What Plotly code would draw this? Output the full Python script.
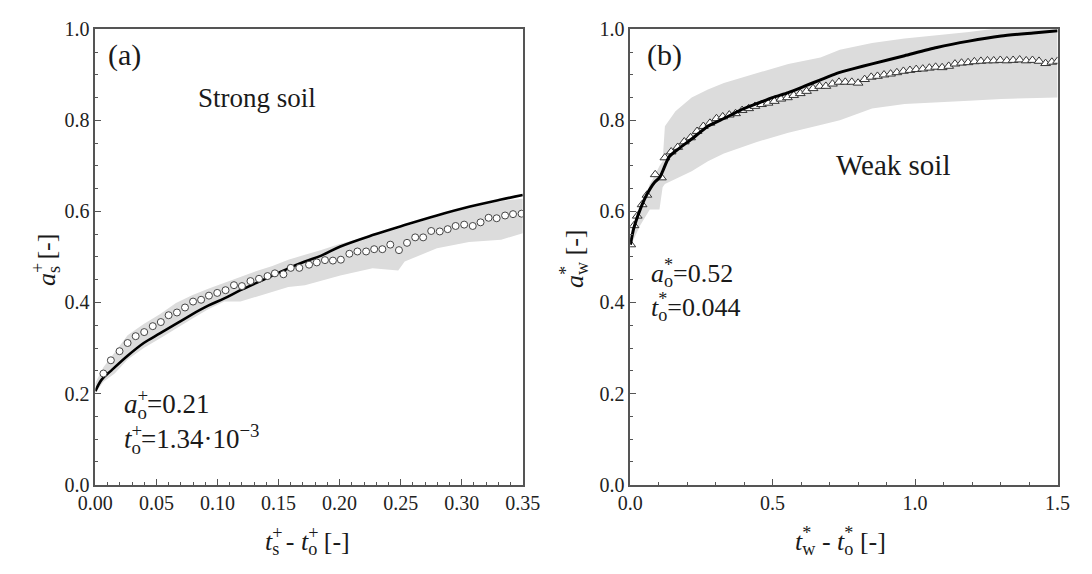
import plotly.graph_objects as go

# ---------------- data: panel (a) strong soil ----------------
circ_x = [0.0066, 0.0127, 0.0198, 0.0264, 0.033, 0.040, 0.047, 0.0536, 0.060, 0.0668,
          0.0734, 0.080, 0.0866, 0.093, 0.0998, 0.1066, 0.1135, 0.120, 0.127, 0.134,
          0.141, 0.147, 0.154, 0.160, 0.167, 0.175, 0.1813, 0.188, 0.1945, 0.201,
          0.208, 0.2146, 0.2217, 0.2283, 0.235, 0.2415, 0.2486, 0.2552, 0.2619, 0.2684,
          0.275, 0.282, 0.2885, 0.295, 0.302, 0.309, 0.3154, 0.322, 0.3286, 0.3355,
          0.342, 0.349]
circ_y = [0.244, 0.273, 0.293, 0.311, 0.326, 0.335, 0.348, 0.357, 0.372, 0.378,
          0.389, 0.402, 0.406, 0.415, 0.421, 0.427, 0.438, 0.436, 0.447, 0.452,
          0.458, 0.464, 0.462, 0.476, 0.476, 0.483, 0.488, 0.493, 0.492, 0.494,
          0.507, 0.512, 0.512, 0.517, 0.517, 0.527, 0.515, 0.531, 0.543, 0.543,
          0.557, 0.556, 0.561, 0.568, 0.571, 0.568, 0.576, 0.586, 0.585, 0.591,
          0.594, 0.595]

fit_s_x = [0.0, 0.005, 0.0132, 0.0264, 0.0396, 0.0528, 0.066, 0.0792, 0.0924, 0.1056,
           0.1188, 0.132, 0.145, 0.158, 0.1716, 0.185, 0.2006, 0.227, 0.2533, 0.2797,
           0.306, 0.3323, 0.35]
fit_s_y = [0.205, 0.230, 0.251, 0.283, 0.311, 0.332, 0.353, 0.374, 0.393, 0.409,
           0.427, 0.443, 0.459, 0.475, 0.490, 0.503, 0.523, 0.548, 0.570, 0.591,
           0.610, 0.626, 0.636]

band_s_x = [0.0, 0.0066, 0.0158, 0.0264, 0.0396, 0.0528, 0.066, 0.0792, 0.0924, 0.1056,
            0.1188, 0.132, 0.145, 0.158, 0.1716, 0.185, 0.2006, 0.227, 0.248, 0.2533,
            0.2797, 0.306, 0.3323, 0.35]
band_s_hi = [0.223, 0.258, 0.290, 0.328, 0.353, 0.374, 0.399, 0.416, 0.430, 0.443,
             0.455, 0.469, 0.480, 0.494, 0.505, 0.515, 0.529, 0.547, 0.562, 0.567,
             0.589, 0.609, 0.623, 0.628]
band_s_lo = [0.201, 0.226, 0.244, 0.275, 0.300, 0.321, 0.342, 0.364, 0.385, 0.402,
             0.402, 0.413, 0.423, 0.434, 0.438, 0.448, 0.459, 0.475, 0.470, 0.490,
             0.519, 0.533, 0.538, 0.552]

# ---------------- data: panel (b) weak soil ----------------
tri_x = [0.0023, 0.0136, 0.025, 0.042, 0.059, 0.088, 0.110, 0.122, 0.144, 0.167,
         0.190, 0.212, 0.235, 0.257, 0.280, 0.303, 0.325, 0.348, 0.370, 0.393,
         0.416, 0.438, 0.461, 0.484, 0.506, 0.529, 0.552, 0.574, 0.597, 0.619,
         0.642, 0.665, 0.687, 0.710, 0.733, 0.755, 0.778, 0.800, 0.823, 0.846,
         0.868, 0.891, 0.914, 0.936, 0.959, 0.982, 1.004, 1.027, 1.050, 1.072,
         1.095, 1.118, 1.140, 1.163, 1.186, 1.208, 1.231, 1.254, 1.276, 1.299,
         1.322, 1.344, 1.367, 1.390, 1.412, 1.435, 1.458, 1.480, 1.500]
tri_y = [0.527, 0.569, 0.590, 0.615, 0.636, 0.681, 0.674, 0.718, 0.731, 0.741,
         0.753, 0.762, 0.776, 0.787, 0.794, 0.804, 0.808, 0.812, 0.815, 0.822,
         0.826, 0.831, 0.835, 0.838, 0.842, 0.847, 0.850, 0.855, 0.859, 0.864,
         0.870, 0.875, 0.875, 0.880, 0.884, 0.884, 0.884, 0.882, 0.890, 0.895,
         0.897, 0.900, 0.902, 0.905, 0.908, 0.910, 0.912, 0.913, 0.915, 0.917,
         0.916, 0.919, 0.924, 0.926, 0.927, 0.929, 0.930, 0.931, 0.931, 0.932,
         0.931, 0.932, 0.933, 0.931, 0.932, 0.930, 0.925, 0.928, 0.930]

fit_w_x = [0.001, 0.0124, 0.0351, 0.0577, 0.086, 0.103, 0.114, 0.137, 0.171, 0.216,
           0.273, 0.329, 0.386, 0.442, 0.499, 0.555, 0.612, 0.668, 0.725, 0.781,
           0.849, 0.963, 1.076, 1.189, 1.302, 1.415, 1.5]
fit_w_y = [0.527, 0.562, 0.604, 0.636, 0.664, 0.674, 0.688, 0.720, 0.738, 0.759,
           0.787, 0.804, 0.822, 0.836, 0.850, 0.861, 0.875, 0.889, 0.903, 0.913,
           0.924, 0.942, 0.960, 0.974, 0.985, 0.992, 0.997]

band_w_x = [0.001, 0.035, 0.069, 0.080, 0.103, 0.114, 0.122, 0.159, 0.216, 0.273,
            0.329, 0.442, 0.555, 0.668, 0.736, 0.849, 0.963, 1.076, 1.189, 1.302,
            1.415, 1.5]
band_w_hi = [0.527, 0.604, 0.660, 0.671, 0.700, 0.710, 0.787, 0.820, 0.850, 0.868,
             0.882, 0.903, 0.924, 0.938, 0.955, 0.970, 0.980, 0.987, 0.994, 1.003,
             1.010, 1.015]
band_w_lo = [0.523, 0.569, 0.604, 0.604, 0.604, 0.653, 0.660, 0.671, 0.688, 0.710,
             0.727, 0.752, 0.773, 0.790, 0.800, 0.826, 0.836, 0.840, 0.843, 0.847,
             0.849, 0.850]

# ---------------- figure ----------------
W, H = 1092, 574
FONT = "Liberation Serif, Times New Roman, Times, serif"
AX = "#555555"
BAND = "#dcdcdc"

fig = go.Figure()


def add_band(xs, lo, hi, xa, ya):
    fig.add_trace(go.Scatter(x=xs + xs[::-1], y=hi + lo[::-1], fill="toself",
                             fillcolor=BAND, line=dict(width=0), mode="lines",
                             hoverinfo="skip", showlegend=False, xaxis=xa, yaxis=ya))


add_band(band_s_x, band_s_lo, band_s_hi, "x", "y")
fig.add_trace(go.Scatter(x=fit_s_x, y=fit_s_y, mode="lines",
                         line=dict(color="black", width=2.6, shape="spline"),
                         showlegend=False, xaxis="x", yaxis="y"))
fig.add_trace(go.Scatter(x=circ_x, y=circ_y, mode="markers",
                         marker=dict(symbol="circle", size=7, color="white",
                                     line=dict(color="#444444", width=1)),
                         showlegend=False, xaxis="x", yaxis="y"))

add_band(band_w_x, band_w_lo, band_w_hi, "x2", "y2")
fig.add_trace(go.Scatter(x=tri_x, y=tri_y, mode="markers",
                         marker=dict(symbol="triangle-up", size=8.5, color="white",
                                     line=dict(color="#333333", width=1)),
                         showlegend=False, xaxis="x2", yaxis="y2"))
fig.add_trace(go.Scatter(x=fit_w_x, y=fit_w_y, mode="lines",
                         line=dict(color="black", width=3, shape="spline", smoothing=0.6),
                         showlegend=False, xaxis="x2", yaxis="y2"))

ydom = [(H - 492.5) / H, (H - 19) / H]
common = dict(showline=True, linecolor=AX, linewidth=1.5, mirror=True,
              ticks="inside", ticklen=6, tickwidth=1.2, tickcolor=AX,
              showgrid=False, zeroline=False,
              tickfont=dict(family=FONT, size=20, color="#222222"))

fig.update_layout(
    width=W, height=H, margin=dict(l=0, r=0, t=0, b=0),
    paper_bgcolor="white", plot_bgcolor="white",
    font=dict(family=FONT),
    xaxis=dict(domain=[80 / W, 522 / W], range=[0, 0.35], dtick=0.05, tick0=0,
               tickformat=".2f", anchor="y",
               minor=dict(dtick=0.01, ticks="inside", ticklen=3, tickcolor=AX), **common),
    yaxis=dict(domain=ydom, range=[0, 1.0], dtick=0.2, tickformat=".1f", anchor="x",
               minor=dict(dtick=0.05, ticks="inside", ticklen=3, tickcolor=AX), **common),
    xaxis2=dict(domain=[633 / W, 1075 / W], range=[0, 1.5], dtick=0.5, tickformat=".1f",
                anchor="y2",
                minor=dict(dtick=0.1, ticks="inside", ticklen=3, tickcolor=AX), **common),
    yaxis2=dict(domain=ydom, range=[0, 1.0], dtick=0.2, tickformat=".1f", anchor="x2",
                minor=dict(dtick=0.05, ticks="inside", ticklen=3, tickcolor=AX), **common),
)


def st(sup, sub, size, sup_w):
    """superscript stacked over subscript (sup pulled back by its own width)"""
    back = round(0.7 * size * sup_w, 1)
    return (f"<sup><span style='letter-spacing:-{back}px'>{sup}</span></sup>"
            f"<sub>{sub}</sub>")


PLUS, STAR = 0.564, 0.5


def ann(text, px, py, size, xanchor="left", angle=0, align="left"):
    fig.add_annotation(text=text, x=px / W, y=(H - py) / H, xref="paper", yref="paper",
                       xanchor=xanchor, yanchor="middle", showarrow=False,
                       textangle=angle, align=align,
                       font=dict(family=FONT, size=size, color="#1a1a1a"))


ann("(a)", 110, 46, 30, "center")
ann("(b)", 669, 46, 30, "center")
ann("Strong soil", 184, 90, 27)
ann("Weak soil", 844, 160, 29)
ann("<i>a</i>" + st("+", "o", 27, PLUS) + "=0.21<br>"
    + "<i>t</i>" + st("+", "o", 27, PLUS) + "=1.34·10<sup>−3</sup>", 108, 429, 27)
ann("<i>a</i>" + st("*", "o", 26, STAR) + "=0.52<br>"
    + "<i>t</i>" + st("*", "o", 26, STAR) + "=0.044", 652, 292, 26)

# axis titles
ann("<i>a</i>" + st("+", "s", 26, PLUS) + " [-]", 31, 258, 26, "center", -90)
ann("<i>a</i>" + st("*", "w", 26, STAR) + " [-]", 576, 258, 26, "center", -90)
ann("<i>t</i>" + st("+", "s", 26, PLUS) + " - <i>t</i>" + st("+", "o", 26, PLUS) + " [-]",
    299, 553, 26, "center")
ann("<i>t</i>" + st("*", "w", 26, STAR) + " - <i>t</i>" + st("*", "o", 26, STAR) + " [-]",
    851, 553, 26, "center")

fig.write_html("out.html")
